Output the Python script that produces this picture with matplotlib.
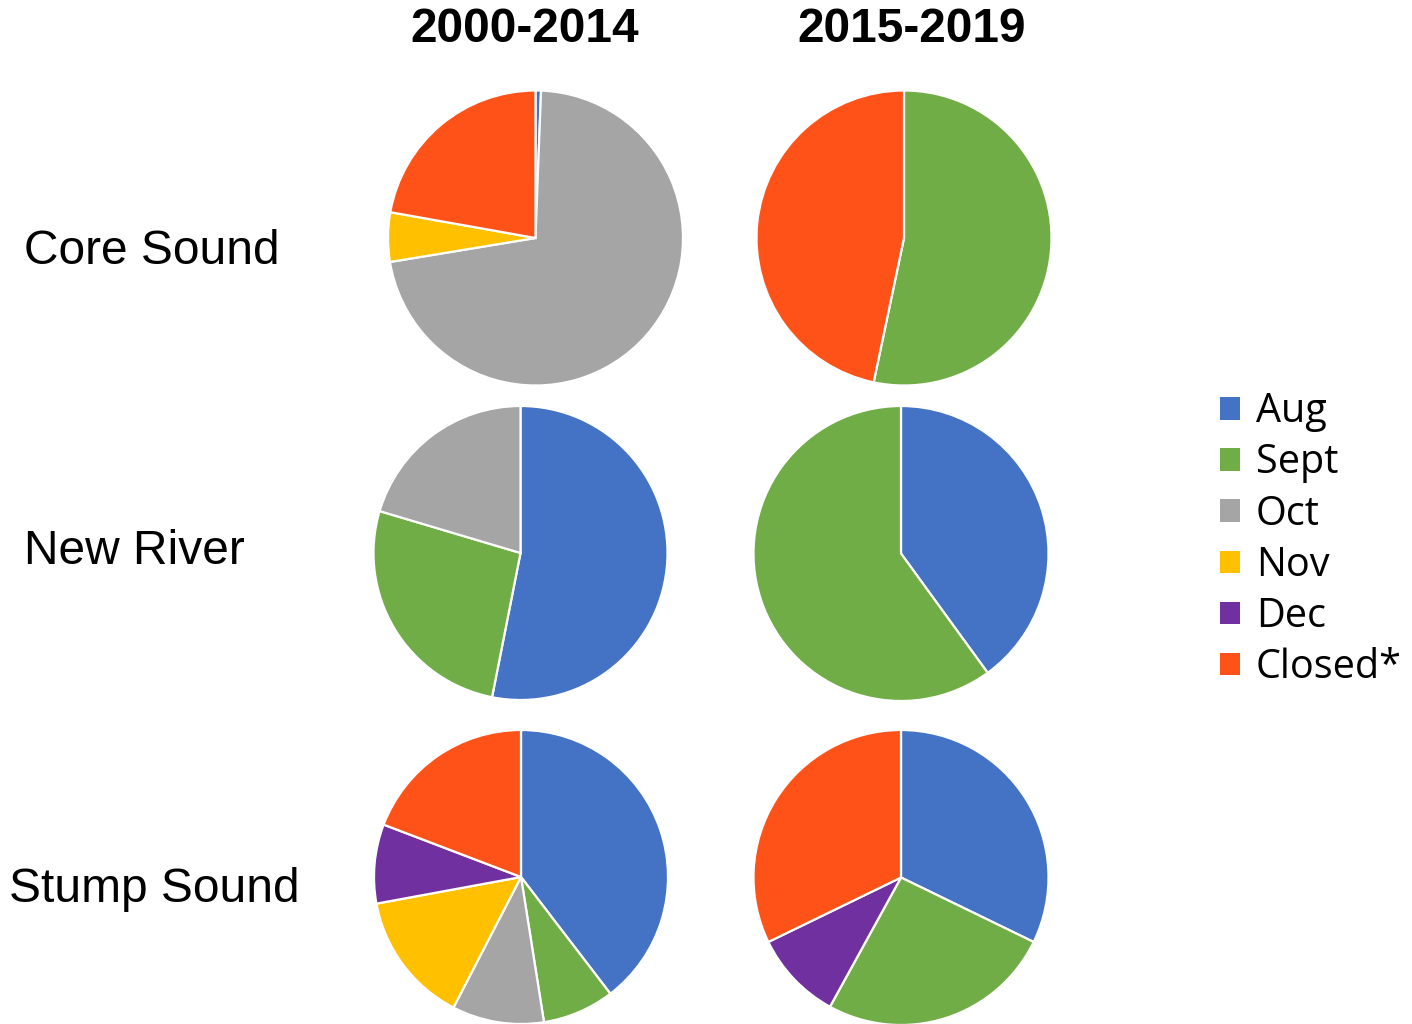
import matplotlib
matplotlib.use("Agg")
import matplotlib.pyplot as plt
from matplotlib.patches import Patch

# ---- data ----
categories = ["Aug", "Sept", "Oct", "Nov", "Dec", "Closed*"]
periods = ["2000-2014", "2015-2019"]
regions = ["Core Sound", "New River", "Stump Sound"]

core_2000_2014 = [0.6, 0.0, 71.8, 5.4, 0.0, 22.2]
core_2015_2019 = [0.0, 53.3, 0.0, 0.0, 0.0, 46.7]
new_2000_2014 = [53.1, 26.5, 20.4, 0.0, 0.0, 0.0]
new_2015_2019 = [40.0, 60.0, 0.0, 0.0, 0.0, 0.0]
stump_2000_2014 = [39.6, 7.9, 10.1, 14.5, 8.7, 19.2]
stump_2015_2019 = [32.2, 25.8, 0.0, 0.0, 9.8, 32.2]

# ---- style / layout ----
colors = ["#4472C4", "#70AD47", "#A5A5A5", "#FFC000", "#7030A0", "#FF5219"]
W, H = 1412, 1024
fig = plt.figure(figsize=(W / 100, H / 100), dpi=100)
fig.patch.set_facecolor("white")

pies = [
    (core_2000_2014, 535.5, 238, 147.5),
    (core_2015_2019, 904, 238, 147.5),
    (new_2000_2014, 520.5, 553, 147),
    (new_2015_2019, 901, 553.5, 147.5),
    (stump_2000_2014, 521, 877, 147),
    (stump_2015_2019, 901, 877.5, 147.5),
]

for vals, cx, cy, r in pies:
    ax = fig.add_axes([(cx - r) / W, 1 - (cy + r) / H, 2 * r / W, 2 * r / H])
    v = [x for x in vals if x > 0]
    c = [col for x, col in zip(vals, colors) if x > 0]
    ax.pie(v, colors=c, startangle=90, counterclock=False, radius=1,
           wedgeprops=dict(edgecolor="white", linewidth=1.6))
    ax.set_xlim(-1.0, 1.0)
    ax.set_ylim(-1.0, 1.0)
    ax.axis("off")

title_font = ["Liberation Sans", "DejaVu Sans"]
for label, x in zip(periods, [525, 912]):
    fig.text(x / W, 1 - 30 / H, label, ha="center", va="center",
             fontsize=34.5, fontweight="bold", family=title_font)

for label, x, y in zip(regions, [24, 24, 9], [251, 551, 889]):
    fig.text(x / W, 1 - y / H, label, ha="left", va="center",
             fontsize=34.5, family=title_font)

handles = [Patch(facecolor=c, edgecolor="none") for c in colors]
leg = fig.legend(handles, categories, loc="center left",
                 bbox_to_anchor=(1220 / W, 1 - 540 / H),
                 frameon=False, prop={"family": ["Open Sans", "DejaVu Sans"], "size": 28.5},
                 handlelength=0.5, handleheight=0.5, handletextpad=0.4,
                 labelspacing=0.27, borderpad=0, borderaxespad=0)

fig.savefig("out.png", dpi=100, facecolor="white")
